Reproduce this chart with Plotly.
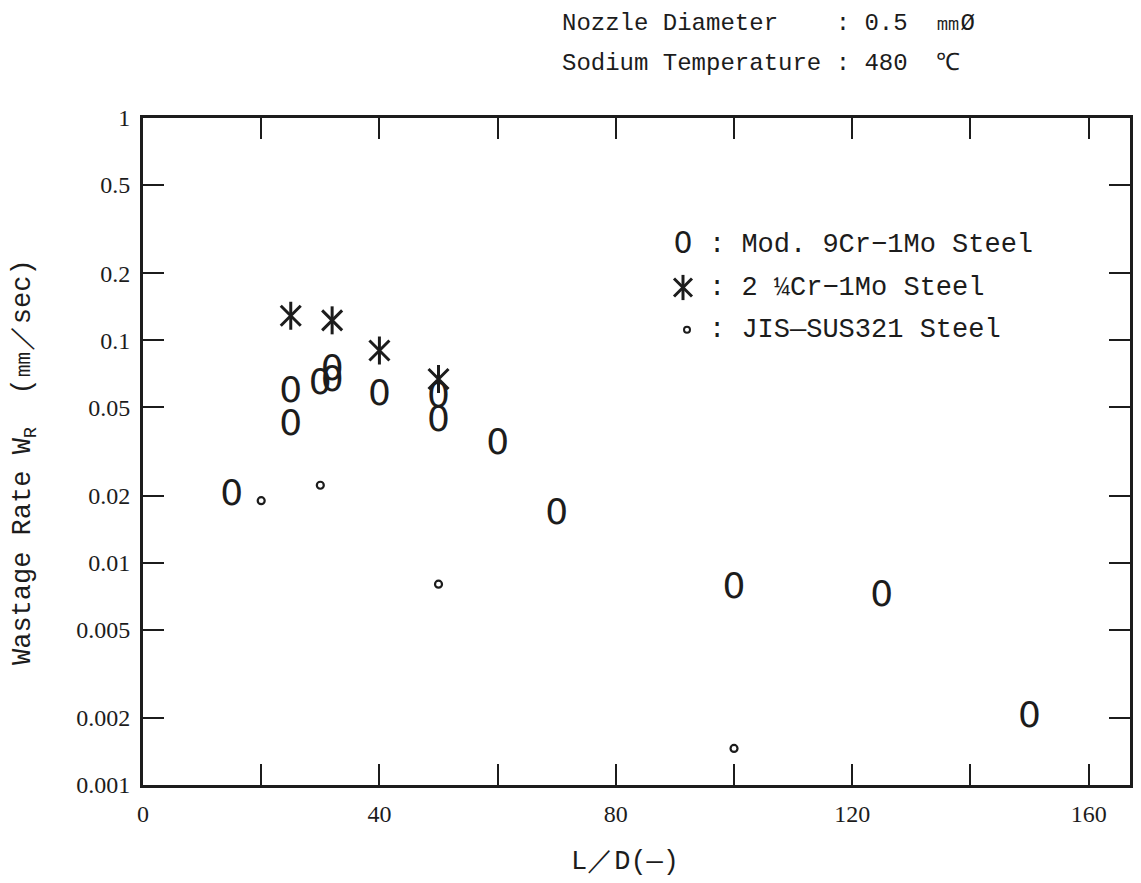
import numpy as np
import plotly.graph_objects as go

# ---------------- data ----------------
ld_mod9 = [15, 25, 25, 30, 32, 32, 40, 50, 50, 60, 70, 100, 125, 150]
wr_mod9 = [0.020, 0.058, 0.041, 0.063, 0.073, 0.065, 0.056, 0.055, 0.043,
           0.034, 0.0164, 0.0076, 0.0070, 0.0020]

ld_cr = [25, 32, 40, 50]
wr_cr = [0.129, 0.123, 0.090, 0.067]

ld_sus = [20, 30, 50, 100]
wr_sus = [0.019, 0.0223, 0.0080, 0.00146]

x_tickvals = [0, 40, 80, 120, 160]
x_ticktext = ["0", "40", "80", "120", "160"]
x_minorvals = [20, 60, 100, 140]

y_tickvals = [0.001, 0.002, 0.005, 0.01, 0.02, 0.05, 0.1, 0.2, 0.5, 1]
y_ticktext = ["0.001", "0.002", "0.005", "0.01", "0.02", "0.05", "0.1", "0.2", "0.5", "1"]

legend_labels = ["Mod. 9Cr\u22121Mo Steel", "2 \u00bcCr\u22121Mo Steel", "JIS\u2014SUS321 Steel"]

header_lines = ["Nozzle Diameter    : 0.5  \u339c\u00d8",
                "Sodium Temperature : 480  \u2103"]

INK = "#1c1c1c"
MONO = "Liberation Mono"
SERIF = "Liberation Serif"

W, H = 1141, 883
L, R, T, B = 143, 11, 118, 98
pw, ph = W - L - R, H - T - B


def px_x(p):
    return (p - L) / pw


def px_y(p):
    return (H - B - p) / ph


fig = go.Figure()

# Mod. 9Cr-1Mo : open oval "0"
fig.add_trace(go.Scatter(
    x=ld_mod9, y=wr_mod9, mode="text", text=["0"] * len(ld_mod9),
    textposition="middle center",
    textfont=dict(family="DejaVu Sans", size=36, color=INK),
    showlegend=False, hoverinfo="x+y", cliponaxis=False))

# 2 1/4Cr-1Mo : six-armed asterisk (vertical bar + X)
for sym in ["line-ns-open", "x-thin-open"]:
    fig.add_trace(go.Scatter(
        x=ld_cr, y=wr_cr, mode="markers",
        marker=dict(symbol=sym, size=20, color=INK, line=dict(width=3, color=INK)),
        showlegend=False, cliponaxis=False))

# JIS-SUS321 : small dot
fig.add_trace(go.Scatter(
    x=ld_sus, y=wr_sus, mode="markers",
    marker=dict(symbol="circle", size=7, color="white", line=dict(width=2.2, color=INK)),
    showlegend=False, cliponaxis=False))

# ---------------- legend keys on a small helper axis ----------------
fig.add_trace(go.Scatter(
    x=[0], y=[legend_labels[0]], mode="text", text=["0"],
    textposition="middle center",
    textfont=dict(family="DejaVu Sans", size=30, color=INK),
    xaxis="x2", yaxis="y2", showlegend=False, cliponaxis=False))
for sym in ["line-ns-open", "x-thin-open"]:
    fig.add_trace(go.Scatter(
        x=[0], y=[legend_labels[1]], mode="markers",
        marker=dict(symbol=sym, size=18, color=INK, line=dict(width=3, color=INK)),
        xaxis="x2", yaxis="y2", showlegend=False, cliponaxis=False))
fig.add_trace(go.Scatter(
    x=[0.4], y=[legend_labels[2]], mode="markers",
    marker=dict(symbol="circle", size=6, color="white", line=dict(width=2, color=INK)),
    xaxis="x2", yaxis="y2", showlegend=False, cliponaxis=False))

annotations = []
for i, lab in enumerate(legend_labels):
    annotations.append(dict(
        x=px_x(707), xref="paper", y=i, yref="y2",
        text=(": " + lab).replace(" ", "\u00a0"), showarrow=False,
        xanchor="left", yanchor="middle",
        font=dict(family=MONO, size=27, color=INK)))

# header
for txt, yc in zip(header_lines, [23, 63]):
    annotations.append(dict(
        x=px_x(560), xref="paper", y=px_y(yc), yref="paper",
        text=txt.replace(" ", "\u00a0"), showarrow=False,
        xanchor="left", yanchor="middle",
        font=dict(family=MONO, size=24, color=INK)))

# axis titles
annotations.append(dict(
    x=px_x(25), xref="paper", y=px_y(462), yref="paper",
    text="Wastage\u00a0Rate\u00a0W<sub>R</sub>\u00a0\u00a0(\u339c\uff0fsec)",
    textangle=-90, showarrow=False, xanchor="center", yanchor="middle",
    font=dict(family=MONO, size=27, color=INK)))
annotations.append(dict(
    x=px_x(625), xref="paper", y=px_y(862), yref="paper",
    text="L\uff0fD(\u2014)", showarrow=False, xanchor="center", yanchor="middle",
    font=dict(family=MONO, size=27, color=INK)))

tick_style = dict(ticks="inside", ticklen=21, tickwidth=2, tickcolor=INK)
axis_common = dict(
    showline=True, linewidth=3, linecolor=INK, mirror="ticks",
    showgrid=False, zeroline=False,
    tickfont=dict(family=SERIF, size=24, color=INK),
    **tick_style,
)

fig.update_layout(
    width=W, height=H,
    margin=dict(l=L, r=R, t=T, b=B, autoexpand=False),
    paper_bgcolor="white", plot_bgcolor="white",
    showlegend=False,
    xaxis=dict(range=[0, 167], tickvals=x_tickvals, ticktext=x_ticktext,
               minor=dict(tickvals=x_minorvals, **tick_style),
               ticklabelstandoff=5, **axis_common),
    yaxis=dict(type="log", range=[-3, 0],
               tickvals=y_tickvals, ticktext=y_ticktext,
               ticklabelstandoff=5, **axis_common),
    xaxis2=dict(domain=[px_x(673), px_x(693)], range=[-1, 1], anchor="y2",
                visible=False, fixedrange=True),
    yaxis2=dict(domain=[px_y(351), px_y(224)], anchor="x2", type="category",
                categoryarray=legend_labels, range=[2.5, -0.5],
                visible=False, fixedrange=True),
    annotations=annotations,
)

fig.write_html("out.html")
